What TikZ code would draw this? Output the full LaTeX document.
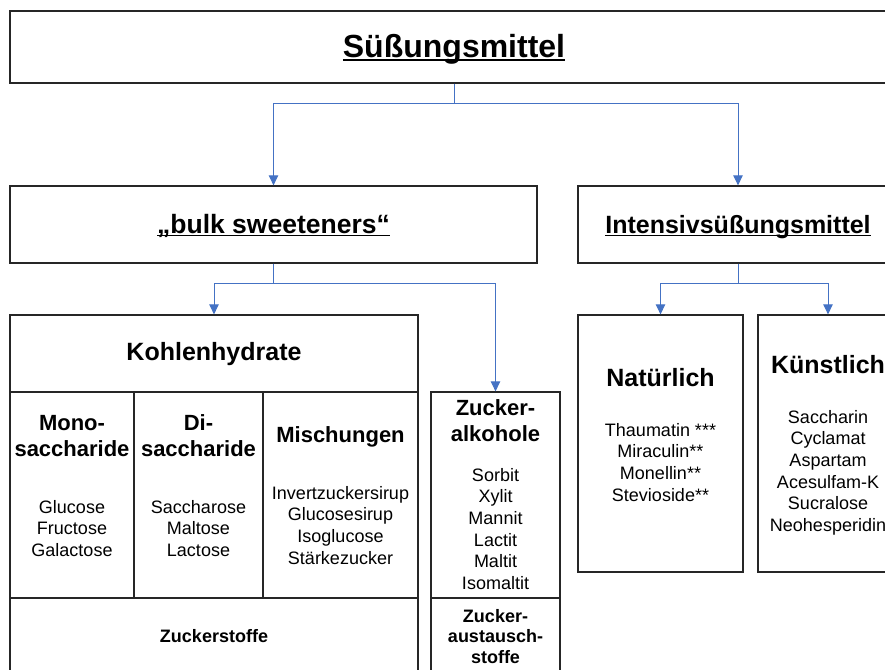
\documentclass[tikz,border=0pt]{standalone}
\usepackage{fontspec}
\setmainfont{Liberation Sans}
\usepackage{xcolor}
\usepackage{tikz}
\usetikzlibrary{arrows.meta,calc}
\definecolor{sblue}{HTML}{4472C4}
\definecolor{sink}{HTML}{262626}
\newcommand{\undl}[1]{\setbox0=\hbox{#1}\rlap{\rule[-0.13em]{\wd0}{0.065em}}\box0}

\begin{document}
\begin{tikzpicture}[x=1pt,y=-1pt,
  frame/.style={draw=sink,line width=1.3pt,rectangle,inner sep=0pt},
  arr/.style={draw=sblue,line width=1pt,-{Triangle[length=10pt,width=9.5pt]}},
  ttl/.style={anchor=base,inner sep=0pt,font=\fontsize{32}{38}\selectfont\bfseries},
  hd/.style={anchor=base,inner sep=0pt,align=center,font=\fontsize{25}{30}\selectfont\bfseries},
  sub/.style={anchor=base,inner sep=0pt,align=center,font=\fontsize{22}{26}\selectfont\bfseries},
  lst/.style={anchor=base,inner sep=0pt,align=center,font=\fontsize{18}{21.7}\selectfont},
  lstb/.style={lst,font=\fontsize{18}{20.5}\selectfont\bfseries}]

\useasboundingbox (0,0) rectangle (885,669);
\clip (0,0) rectangle (885,669);

% boxes
\node[frame,minimum width=888pt,minimum height=72pt] (sweet) at (454,47) {};
\node[frame,minimum width=527pt,minimum height=77pt] (bulk) at (273.5,224.5) {};
\node[frame,minimum width=320pt,minimum height=77pt] (intens) at (738,224.5) {};
\node[frame,minimum width=408pt,minimum height=385pt] (kohlen) at (214,507.5) {};
\node[frame,minimum width=129pt,minimum height=308pt] (alkoh) at (495.5,546) {};
\node[frame,minimum width=165pt,minimum height=257pt] (natur) at (660.5,443.5) {};
\node[frame,minimum width=140pt,minimum height=257pt] (kuenst) at (828,443.5) {};

% table rules
\coordinate (rowA) at (0,392);
\coordinate (rowB) at (0,598);
\draw[draw=sink,line width=1.3pt] (kohlen.west |- rowA) -- (kohlen.east |- rowA);
\draw[draw=sink,line width=1.3pt] (kohlen.west |- rowB) -- (kohlen.east |- rowB);
\draw[draw=sink,line width=1.3pt] (134,392) -- (134,598);
\draw[draw=sink,line width=1.3pt] (263,392) -- (263,598);
\draw[draw=sink,line width=1.3pt] (alkoh.west |- rowB) -- (alkoh.east |- rowB);

\foreach \a/\b in {sweet/bulk,sweet/intens,bulk/kohlen,bulk/alkoh,intens/natur,intens/kuenst}
  \draw[arr] (\a.south) -- ++(0,19.5) -| (\b.north);

% texts (base = last line)
\node[ttl] (tSweet) at (454,57) {\undl{Süßungsmittel}};
\node[hd,font=\fontsize{26.5}{30}\selectfont\bfseries] (tBulk) at (273.5,233) {\undl{„bulk sweeteners“}};
\node[hd] (tIntens) at (738,233) {\undl{Intensivsüßungsmittel}};
\node[hd] (tKohlen) at (214,360) {Kohlenhydrate};
\node[sub] (tMono) at (72,456) {Mono-\\saccharide};
\node[sub] (tDi) at (198.5,456) {Di-\\saccharide};
\node[sub] (tMisch) at (340.5,442) {Mischungen};
\node[lst] (lMono) at (72,556.4) {Glucose\\Fructose\\Galactose};
\node[lst] (lDi) at (198.5,556.4) {Saccharose\\Maltose\\Lactose};
\node[lst] (lMisch) at (340.5,564.1) {Invertzuckersirup\\Glucosesirup\\Isoglucose\\Stärkezucker};
\node[lstb] (tZstoffe) at (214,642) {Zuckerstoffe};
\node[sub] (tAlkoh) at (495.5,441) {Zucker-\\alkohole};
\node[lst] (lAlkoh) at (495.5,589.5) {Sorbit\\Xylit\\Mannit\\Lactit\\Maltit\\Isomaltit};
\node[lstb] (tAustausch) at (495.5,663) {Zucker-\\austausch-\\stoffe};
\node[hd] (tNatur) at (660.5,386) {Natürlich};
\node[lst] (lNatur) at (660.5,501.1) {Thaumatin ***\\Miraculin**\\Monellin**\\Stevioside**};
\node[hd] (tKuenst) at (828,373) {Künstlich};
\node[lst] (lKuenst) at (828,531.5) {Saccharin\\Cyclamat\\Aspartam\\Acesulfam-K\\Sucralose\\Neohesperidin};
\end{tikzpicture}
\end{document}
